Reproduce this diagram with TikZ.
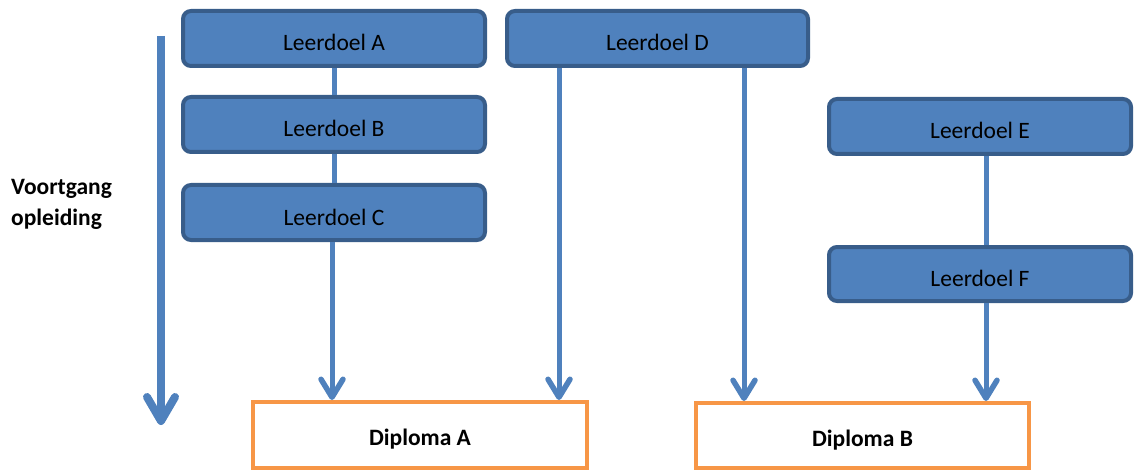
\documentclass[tikz,border=0pt]{standalone}
\usepackage{fontspec}
\setmainfont{Carlito}
\usetikzlibrary{arrows.meta}
\definecolor{boxfill}{HTML}{4F81BD}
\definecolor{boxline}{HTML}{385D8A}
\definecolor{dipline}{HTML}{F79646}
\begin{document}
\begin{tikzpicture}[x=1pt,y=-1pt,
  goal/.style={draw=boxline,fill=boxfill,line width=4pt,rounded corners=8pt,
    minimum width=302pt,minimum height=55pt,inner sep=0pt,
    text height=25pt,text depth=0pt,
    font=\fontsize{23.5}{28}\selectfont,text=black},
  diploma/.style={draw=dipline,fill=white,line width=4pt,
    minimum height=66pt,inner sep=0pt,
    text height=21pt,text depth=0pt,
    font=\fontsize{23.5}{28}\selectfont\bfseries,text=black},
  link/.style={draw=boxfill,line width=5pt},
  flow/.style={link,-{Straight Barb[length=18pt,width=22pt,line width=5.5pt,line cap=round,line join=round]}},
  bigflow/.style={draw=boxfill,line width=8pt,-{Straight Barb[length=24pt,width=28pt,line width=8pt,line cap=round,line join=round]}}
]
\useasboundingbox (0,0) rectangle (1134,473);
% nodes
\node[diploma,minimum width=334pt] (dA) at (420,435) {Diploma A};
\node[diploma,minimum width=333pt,minimum height=65pt] (dB) at (862.5,435.5) {Diploma B};
\coordinate (vtop) at (161,36);
\coordinate (vend) at (161,425);
\draw[bigflow] (vtop) -- (vend);
\node[goal] (A) at (334,38.5) {Leerdoel A};
\node[goal] (B) at (334,124.5) {Leerdoel B};
\node[goal] (C) at (334,212.5) {Leerdoel C};
\node[goal,minimum width=301pt] (D) at (657.5,38.5) {Leerdoel D};
\node[goal] (E) at (980,126.5) {Leerdoel E};
\node[goal,minimum height=54pt] (F) at (980,274) {Leerdoel F};
\draw[link] (A.south -| 334,0) -- (B.north -| 334,0);
\draw[link] (B.south -| 334,0) -- (C.north -| 334,0);
\draw[flow] (C.south -| 332,0) -- (dA.north -| 332,0);
\draw[flow] (D.south -| 559,0) -- (dA.north -| 559,0);
\draw[flow] (D.south -| 744,0) -- (dB.north -| 744,0);
\draw[link] (E.south -| 986,0) -- (F.north -| 986,0);
\draw[flow] (F.south -| 986,0) -- (dB.north -| 986,0);
% label
\node[anchor=base west,align=left,inner sep=0pt,
  font=\fontsize{23.5}{31}\selectfont\bfseries] (lbl) at (11,225) {Voortgang\\opleiding};
\end{tikzpicture}
\end{document}
